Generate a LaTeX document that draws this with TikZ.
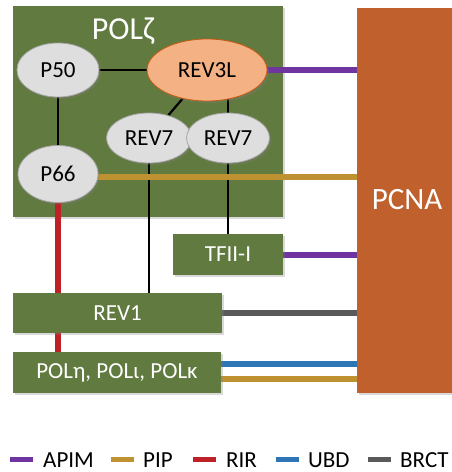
\documentclass[tikz,border=0pt]{standalone}
\usepackage{fontspec}
\setmainfont{Carlito}
\usetikzlibrary{positioning, shapes.geometric, backgrounds, shadows, calc}
\definecolor{polgreen}{HTML}{617A3F}
\definecolor{pcnaorange}{HTML}{C0602C}
\definecolor{revorange}{HTML}{F4B183}
\definecolor{revedge}{HTML}{C55A11}
\definecolor{subgray}{HTML}{DEDEDE}
\definecolor{apimpurple}{HTML}{7034A0}
\definecolor{pipgold}{HTML}{BF9231}
\definecolor{rirred}{HTML}{BE2228}
\definecolor{ubdblue}{HTML}{2E75B6}
\definecolor{brctgray}{HTML}{5A5A5A}
\tikzset{
  soft/.style    = {drop shadow={shadow xshift=2pt, shadow yshift=-2pt, opacity=0.3}},
  sub/.style     = {ellipse, draw=gray!70, thick, fill=subgray, inner sep=0pt,
                    font=\fontsize{23}{26}\selectfont, soft},
  core/.style    = {sub, draw=revedge, fill=revorange},
  gbox/.style    = {rectangle, fill=polgreen, text=white, inner sep=0pt,
                    font=\fontsize{23}{26}\selectfont, soft},
  link/.style    = {line width=2.2pt, draw=black},
  apim/.style    = {line width=6pt, draw=apimpurple},
  pip/.style     = {line width=6pt, draw=pipgold},
  rir/.style     = {line width=6pt, draw=rirred},
  ubd/.style     = {line width=6pt, draw=ubdblue},
  brct/.style    = {line width=6pt, draw=brctgray},
  keytext/.style = {anchor=base west, font=\fontsize{23}{26}\selectfont, inner sep=0pt},
}

\begin{document}
\begin{tikzpicture}[x=1pt, y=-1pt]
\useasboundingbox (0,0) rectangle (451,472);

% Subunits of the complex
\node (p50)   [sub,  minimum width=82pt,  minimum height=54pt] at (58,70)   {P50};
\node (rev3l) [core, minimum width=120pt, minimum height=62pt] at (207,70)  {REV3L};
\node (reva)  [sub,  minimum width=85pt,  minimum height=50pt] at (149,138) {REV7};
\node (revb)  [sub,  minimum width=83pt,  minimum height=50pt] at (228,138) {REV7};
\node (p66)   [sub,  minimum width=80pt,  minimum height=57pt] at (58,174)  {P66};

% Partners below and the clamp on the right
\node (tfii)   [gbox, minimum width=110pt, minimum height=41pt] at (228,254.5) {TFII-I};
\node (revone) [gbox, minimum width=209pt, minimum height=40pt] at (117.5,313) {REV1};
\node (polx)   [gbox, minimum width=208pt, minimum height=41pt] at (117,372.5) {POLη, POLι, POLκ};
\node (pcna)   [gbox, fill=pcnaorange, minimum width=100pt, minimum height=385pt,
                font=\fontsize{31}{36}\selectfont] at (407,200) {PCNA};

\begin{pgfonlayer}{background}
  % POLzeta frame
  \node (polz) [gbox, minimum width=270pt, minimum height=211pt] at (148,111.5) {};
  % contacts inside the complex
  \draw [link] (p50) -- (rev3l);
  \draw [link] (p50) -- (p66);
  \draw [link] (rev3l) -- (reva);
  \draw [link] (revb |- rev3l) -- (revb);
  \draw [link] (reva) -- (reva |- revone.north);
  \draw [link] (revb) -- (revb |- tfii.north);
  \draw [rir]  (p66) -- (p66 |- polx.north);
  % motifs binding PCNA
  \draw [apim] (rev3l) -- (rev3l -| pcna.west);
  \draw [pip]  ([yshift=-3pt]p66.center) -- ([yshift=-3pt]p66.center -| pcna.west);
  \draw [apim] (tfii) -- (tfii -| pcna.west);
  \draw [brct] (revone) -- (revone -| pcna.west);
  \draw [ubd]  ([yshift=8.5pt]polx.center) -- ([yshift=8.5pt]polx.center -| pcna.west);
  \draw [pip]  ([yshift=-6.5pt]polx.center) -- ([yshift=-6.5pt]polx.center -| pcna.west);
\end{pgfonlayer}

\node (title) [text=white, font=\fontsize{32}{36}\selectfont] at (123,31) {POLζ};

% Legend
\node (kapim) [keytext] at (43,467)  {APIM};
\node (kpip)  [keytext] at (143,467) {PIP};
\node (krir)  [keytext] at (226,467) {RIR};
\node (kubd)  [keytext] at (308,467) {UBD};
\node (kbrct) [keytext] at (400,467) {BRCT};
\draw [apim, line width=5pt] (10,459)  -- ++(23,0);
\draw [pip,  line width=5pt] (111,459) -- ++(23,0);
\draw [rir,  line width=5pt] (193,459) -- ++(23,0);
\draw [ubd,  line width=5pt] (276,459) -- ++(23,0);
\draw [brct, line width=5pt] (368,459) -- ++(23,0);

\end{tikzpicture}
\end{document}
